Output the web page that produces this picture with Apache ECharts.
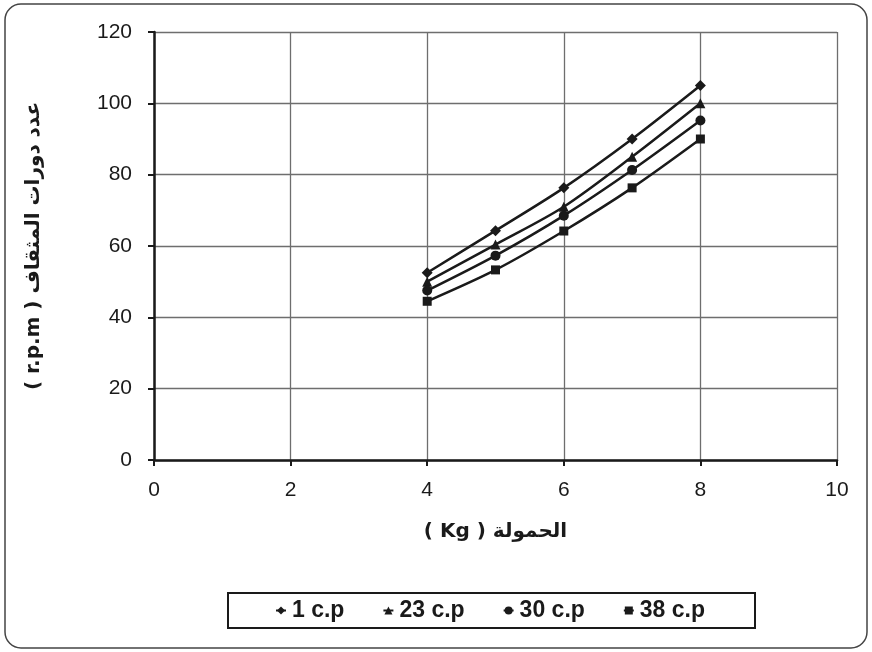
<!DOCTYPE html>
<html>
<head>
<meta charset="utf-8">
<script src="https://cdn.jsdelivr.net/npm/echarts@6/dist/echarts.min.js"></script>
<style>html,body{margin:0;padding:0;background:#fff;}#c{width:872px;height:652px;}</style>
</head>
<body>
<div id="c"></div>
<script>
const loads = [4, 5, 6, 7, 8];
const seriesNames = ['1 c.p', '23 c.p', '30 c.p', '38 c.p'];
const cp1 = [52.5, 64.3, 76.3, 90, 105];
const cp23 = [50, 60.4, 71, 85, 100];
const cp30 = [47.5, 57.3, 68.5, 81.3, 95.2];
const cp38 = [44.5, 53.3, 64.2, 76.3, 90];
const xTicks = [0, 2, 4, 6, 8, 10];
const yTicks = [0, 20, 40, 60, 80, 100, 120];
const xTitle = '( Kg ) الحمولة';
const yTitle = '( r.p.m ) عدد دورات المثقاف';
const symbols = ['diamond', 'triangle', 'circle', 'rect'];
const symbolSizes = [11, 10, 10, 9];
const allValues = [cp1, cp23, cp30, cp38];

const chart = echarts.init(document.getElementById('c'), null, {renderer: 'canvas'});
const font = '"Liberation Sans", Arial, sans-serif';
const titleFont = '"DejaVu Sans", "Liberation Sans", sans-serif';
const series = seriesNames.map((n, i) => ({
  name: n,
  type: 'line',
  smooth: 0.3,
  data: loads.map((x, j) => [x, allValues[i][j]]),
  symbol: symbols[i],
  symbolSize: symbolSizes[i],
  legendIcon: symbols[i],
  itemStyle: {color: '#1a1a1a'},
  lineStyle: {color: '#1a1a1a', width: 2.5},
  z: 5
}));

chart.setOption({
  animation: false,
  backgroundColor: '#fff',
  textStyle: {fontFamily: font},
  graphic: [{
    type: 'rect',
    shape: {x: 5, y: 4, width: 862, height: 644, r: 16},
    style: {fill: 'none', stroke: '#444', lineWidth: 1.5},
    z: 0
  }, {
    type: 'rect',
    shape: {x: 228, y: 593, width: 527, height: 35},
    style: {fill: 'none', stroke: '#1a1a1a', lineWidth: 2},
    z: 1
  }],
  grid: {left: 154, right: 35, top: 32, bottom: 192, containLabel: false},
  xAxis: {
    type: 'value', min: xTicks[0], max: xTicks[xTicks.length - 1], interval: 2,
    axisLine: {onZero: false, lineStyle: {color: '#1a1a1a', width: 2.5}},
    axisTick: {show: true, length: 6, lineStyle: {color: '#1a1a1a', width: 2}},
    axisLabel: {color: '#1a1a1a', fontSize: 21, margin: 20, fontFamily: font},
    splitLine: {show: true, lineStyle: {color: '#6e6e6e', width: 1.3}},
    name: xTitle,
    nameLocation: 'middle', nameGap: 62,
    nameTextStyle: {color: '#1a1a1a', fontSize: 20, fontWeight: 'bold', fontFamily: titleFont}
  },
  yAxis: {
    type: 'value', min: yTicks[0], max: yTicks[yTicks.length - 1], interval: 20,
    axisLine: {show: true, lineStyle: {color: '#1a1a1a', width: 2.5}},
    axisTick: {show: true, length: 6, lineStyle: {color: '#1a1a1a', width: 2}},
    axisLabel: {color: '#1a1a1a', fontSize: 21, margin: 22, fontFamily: font},
    splitLine: {show: true, lineStyle: {color: '#6e6e6e', width: 1.3}},
    name: yTitle,
    nameLocation: 'middle', nameGap: 110, nameRotate: 90,
    nameTextStyle: {color: '#1a1a1a', fontSize: 20, fontWeight: 'bold', fontFamily: titleFont}
  },
  legend: {
    data: seriesNames,
    left: 275, top: 597,
    padding: [2, 0, 2, 0],
    itemGap: 38,
    itemWidth: 10, itemHeight: 10,
    textStyle: {color: '#1a1a1a', fontSize: 23, fontWeight: 'bold', fontFamily: font, padding: [0, 0, 0, 1]}
  },
  series: series
});
</script>
</body>
</html>
